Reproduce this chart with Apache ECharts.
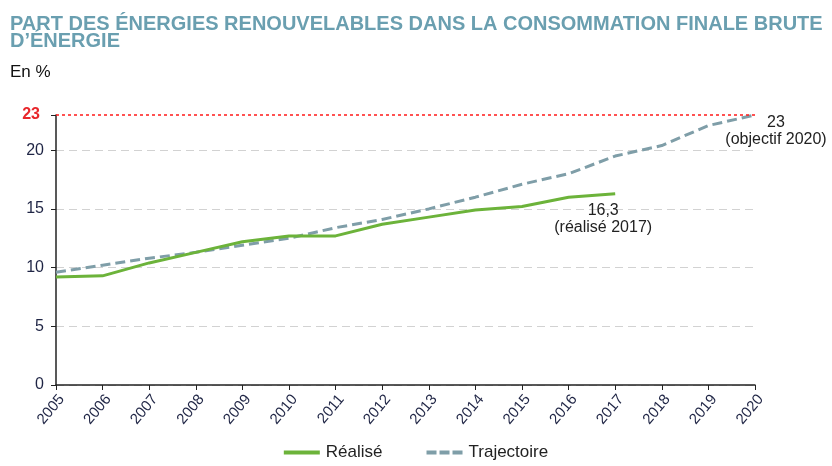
<!DOCTYPE html>
<html><head><meta charset="utf-8">
<script src="https://cdn.jsdelivr.net/npm/echarts@6/dist/echarts.min.js"></script>
<style>html,body{margin:0;padding:0;background:#fff}#c{width:832px;height:466px}</style>
</head><body><div id="c"></div>
<script>
const years = ['2005','2006','2007','2008','2009','2010','2011','2012','2013','2014','2015','2016','2017','2018','2019','2020'];
const realise = [9.2, 9.3, 10.4, 11.3, 12.2, 12.7, 12.7, 13.7, 14.3, 14.9, 15.2, 16.0, 16.3];
const trajectoire = [9.6, 10.2, 10.8, 11.3, 11.9, 12.5, 13.4, 14.1, 15.0, 16.0, 17.1, 18.0, 19.5, 20.4, 22.1, 23.0];
const objectif = 23;

const chart = echarts.init(document.getElementById('c'));
const grey = '#d2d2d2';
chart.setOption({
  animation: false,
  title: [{
    text: 'PART DES ÉNERGIES RENOUVELABLES DANS LA CONSOMMATION FINALE BRUTE\nD’ÉNERGIE',
    left: 5, top: 11,
    textStyle: {fontFamily: 'Liberation Sans', fontWeight: 'bold', fontSize: 20, color: '#6a9fb0', lineHeight: 17}
  }, {
    text: 'En %', left: 5, top: 59,
    textStyle: {fontFamily: 'Liberation Sans', fontWeight: 'normal', fontSize: 17, color: '#111'}
  }],
  grid: {left: 56, right: 77, top: 115, bottom: 81},
  legend: {
    bottom: 0, left: 'center', itemGap: 44, itemWidth: 38, itemHeight: 4,
    textStyle: {fontFamily: 'Liberation Sans', fontSize: 17, color: '#222'},
    data: [
      {name: 'Réalisé', icon: 'path://M0,0h36v4h-36z'},
      {name: 'Trajectoire', icon: 'path://M0,0h10v4h-10z M13,0h10v4h-10z M26,0h10v4h-10z'}
    ]
  },
  xAxis: {
    type: 'category', boundaryGap: false, data: years,
    axisLine: {lineStyle: {color: '#222', width: 1.5}},
    axisTick: {show: true, length: 5, lineStyle: {color: '#222'}},
    axisLabel: {rotate: 50, color: '#1f2545', fontFamily: 'Liberation Sans', fontSize: 15, margin: 7, interval: 0, verticalAlign: 'top'},
    splitLine: {show: false}
  },
  yAxis: {
    type: 'value', min: 0, max: 23, interval: 5,
    axisLine: {show: true, lineStyle: {color: '#222', width: 1.5}},
    axisTick: {show: true, length: 5, lineStyle: {color: '#222'}},
    axisLabel: {
      color: '#1f2545', fontFamily: 'Liberation Sans', fontSize: 16, margin: 12,
      formatter: function (v) { return v === objectif ? '{r|' + v + '}' : String(v); },
      rich: {r: {color: '#e8262b', fontWeight: 'bold', fontSize: 16, fontFamily: 'Liberation Sans', padding: [0, 4, 0, 0]}}
    },
    splitLine: {show: true, lineStyle: {color: [grey, grey, grey, grey, grey, 'rgba(0,0,0,0)'], type: [8, 5], width: 1}}
  },
  series: [{
    name: 'Réalisé', type: 'line', symbol: 'none', data: realise,
    lineStyle: {color: '#6cb33a', width: 3},
    itemStyle: {color: '#6cb33a'},
    z: 3,
    endLabel: {
      show: true, formatter: String(realise[realise.length - 1]).replace('.', ',') + '\n(réalisé 2017)',
      color: '#222', fontFamily: 'Liberation Sans', fontSize: 16, lineHeight: 17,
      align: 'center', verticalAlign: 'top', distance: 0, offset: [-12, 8]
    }
  }, {
    name: 'Trajectoire', type: 'line', symbol: 'none', data: trajectoire,
    lineStyle: {color: '#7f9ea8', width: 3, type: [10, 5]},
    itemStyle: {color: '#7f9ea8'},
    z: 2,
    endLabel: {
      show: true, formatter: objectif + '\n(objectif 2020)',
      color: '#222', fontFamily: 'Liberation Sans', fontSize: 16, lineHeight: 17,
      align: 'center', verticalAlign: 'top', distance: 0, offset: [21, -1]
    },
    markLine: {
      silent: true, symbol: 'none', label: {show: false}, z: 10,
      lineStyle: {color: '#ff1a1a', type: [3, 3], width: 1.5, opacity: 1},
      data: [{yAxis: objectif}]
    }
  }]
});
</script></body></html>
